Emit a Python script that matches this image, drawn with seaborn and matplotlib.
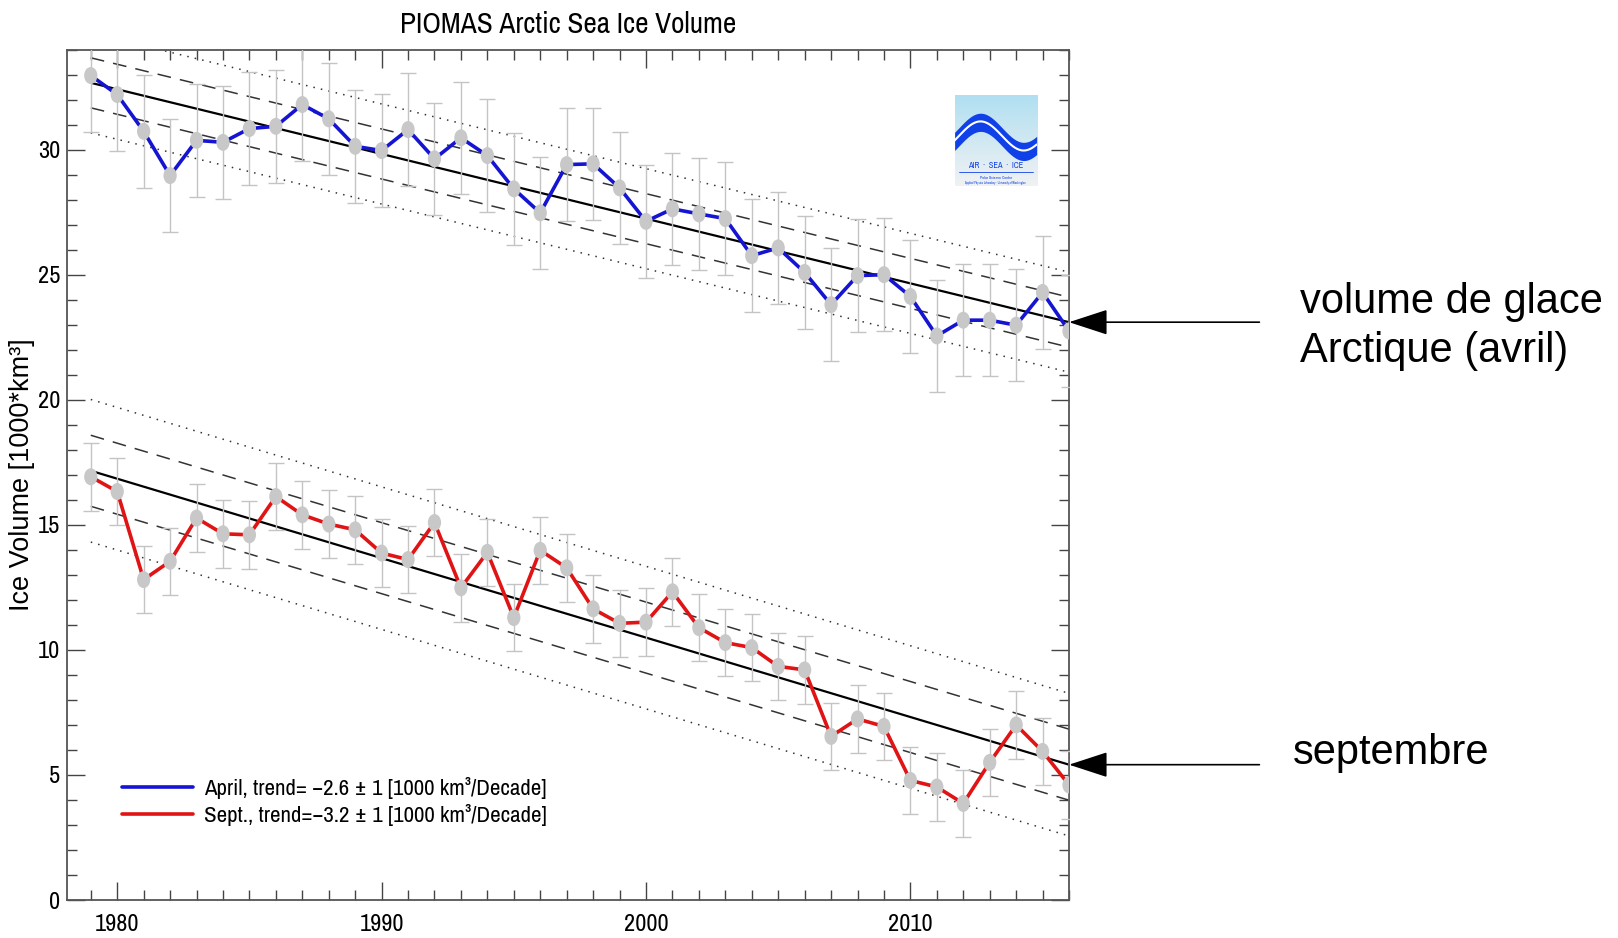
import numpy as np
import pandas as pd
import seaborn as sns
import matplotlib.pyplot as plt
from matplotlib.path import Path
from matplotlib.transforms import Affine2D
from matplotlib.ticker import MultipleLocator

#---------------------------------data
years = list(range(1979, 2017))
april = [32.96, 32.2, 30.73, 28.96, 30.37, 30.29, 30.84, 30.93, 31.8, 31.23,
         30.13, 29.96, 30.8, 29.63, 30.47, 29.76, 28.43, 27.47, 29.4, 29.43,
         28.47, 27.13, 27.63, 27.43, 27.24, 25.76, 26.07, 25.09, 23.8, 24.96,
         25.0, 24.13, 22.55, 23.18, 23.18, 22.98, 24.29, 22.75]
sept = [16.92, 16.33, 12.81, 13.54, 15.27, 14.64, 14.6, 16.13, 15.4, 15.03,
        14.8, 13.87, 13.61, 15.09, 12.48, 13.9, 11.29, 13.98, 13.28, 11.64,
        11.06, 11.11, 12.32, 10.89, 10.29, 10.09, 9.34, 9.2, 6.54, 7.24,
        6.94, 4.78, 4.52, 3.86, 5.5, 7.0, 5.94, 4.6]
april_err = 2.25
sept_err = 1.35

# trend lines: value at first and last year, plus 1 and 2 sigma offsets
trend_years = [1979, 2016]
april_trend = [32.67, 23.1]
sept_trend = [17.16, 5.41]
april_bands = [1.0, 2.0]
sept_bands = [1.42, 2.85]

april_label = "April, trend= \u22122.6 \u00b1 1 [1000 km\u00b3/Decade]"
sept_label = "Sept., trend=\u22123.2 \u00b1 1 [1000 km\u00b3/Decade]"

df = pd.DataFrame({"year": years, "april": april, "sept": sept})

#---------------------------------style
sns.set_style("ticks")
narrow = ['Archivo Narrow', 'Liberation Sans', 'DejaVu Sans']
plain = ['Liberation Sans', 'DejaVu Sans']
plt.rcParams['font.family'] = narrow
plt.rcParams['text.color'] = 'black'
plt.rcParams['axes.labelcolor'] = 'black'
plt.rcParams['xtick.labelcolor'] = 'black'
plt.rcParams['ytick.labelcolor'] = 'black'

fig = plt.figure(figsize=(16.18, 9.38), dpi=100)
ax = fig.add_axes([0.0414, 0.0405, 0.6193, 0.9067])

# grey ellipse marker (taller than wide)
ellipse = Path.unit_circle().transformed(Affine2D().scale(0.78, 1.0))

#---------------------------------trend lines
for trend, bands in [(april_trend, april_bands), (sept_trend, sept_bands)]:
    t = np.array(trend)
    sns.lineplot(x=trend_years, y=t, ax=ax, color="black", lw=1.6, zorder=2)
    for off, dash in [(bands[0], [9, 6]), (-bands[0], [9, 6]),
                      (bands[1], [1, 4]), (-bands[1], [1, 4])]:
        sns.lineplot(x=trend_years, y=t + off, ax=ax, color="#333333", lw=1.1, zorder=2)
        ax.lines[-1].set_dashes(dash)

#---------------------------------series
for col, err, color, label in [("april", april_err, "#1414d2", april_label),
                                ("sept", sept_err, "#e01414", sept_label)]:
    ax.errorbar(df["year"], df[col], yerr=err, fmt="none", ecolor="#c4c4c4",
                elinewidth=1.0, capsize=6, capthick=1.0, zorder=3)
    sns.lineplot(data=df, x="year", y=col, ax=ax, color=color, lw=2.6,
                 label=label, zorder=4)
    sns.scatterplot(data=df, x="year", y=col, ax=ax, marker=ellipse, s=150,
                    color="#c8c8c8", edgecolor="none", zorder=5)

#---------------------------------axes
ax.set_xlim(1978.1, 2016)
ax.set_ylim(0, 34)
ax.xaxis.set_major_locator(MultipleLocator(10))
ax.xaxis.set_minor_locator(MultipleLocator(1))
ax.yaxis.set_major_locator(MultipleLocator(5))
ax.yaxis.set_minor_locator(MultipleLocator(1))
ax.tick_params(which="both", direction="in", top=True, right=True,
               color="#444444", width=1.0, labelsize=17.5)
ax.tick_params(which="major", length=13)
ax.tick_params(which="minor", length=7)
ax.tick_params(axis="x", which="major", pad=10)
ax.tick_params(axis="y", which="major", pad=5)
for s in ax.spines.values():
    s.set_color("#555555")
    s.set_linewidth(1.3)
ax.set_xlabel("")
ax.set_ylabel("Ice Volume [1000*km\u00b3]", family=plain, fontsize=19.5, labelpad=2)
ax.set_title("PIOMAS Arctic Sea Ice Volume", fontsize=21, pad=12)

leg = ax.legend(loc="center left", bbox_to_anchor=(0.043, 0.116), frameon=False,
                fontsize=16.5, handlelength=3.1, handletextpad=0.5,
                labelspacing=0.22, borderpad=0)

#---------------------------------logo (AIR - SEA - ICE)
lax = fig.add_axes([0.590, 0.8017, 0.0507, 0.097])
grad = np.linspace(0.0, 1.0, 50).reshape(-1, 1)
lax.imshow(grad, extent=[0, 1, 0, 1], aspect="auto",
           cmap=sns.light_palette("#a8dcf0", as_cmap=True), origin="lower", alpha=0.9)
xx = np.linspace(0, 1, 200)
wave = 0.58 + 0.16 * np.sin(2 * np.pi * (xx * 0.95 - 0.05))
lax.fill_between(xx, wave - 0.14, wave + 0.06, color="#1040e8", lw=0)
lax.plot(xx, wave - 0.03, color="white", lw=1.5)
lax.text(0.5, 0.22, "AIR  \u00b7  SEA  \u00b7  ICE", ha="center", va="center",
         fontsize=6, color="#1040e8", weight="bold")
lax.plot([0.05, 0.95], [0.15, 0.15], color="#1040e8", lw=0.6)
lax.text(0.5, 0.09, "Polar Science Center", ha="center", va="center", fontsize=3, color="#1040e8")
lax.text(0.5, 0.03, "Applied Physics Laboratory \u00b7 University of Washington",
         ha="center", va="center", fontsize=2.2, color="#1040e8")
lax.set_xlim(0, 1)
lax.set_ylim(0, 1)
lax.axis("off")

#---------------------------------french annotations with arrows
for val in [april_trend[1], sept_trend[1]]:
    ax.annotate("", xy=(1.0, val), xycoords=("axes fraction", "data"),
                xytext=(1.19, val), textcoords=("axes fraction", "data"),
                arrowprops=dict(arrowstyle="-|>,head_length=0.98,head_width=0.32",
                                mutation_scale=25, color="black", lw=1.2,
                                shrinkA=0, shrinkB=0))
fig.text(0.8035, 0.652, "volume de glace\nArctique (avril)", ha="left", va="center",
         fontsize=30, family=plain, linespacing=1.28, color="black")
fig.text(0.799, 0.197, "septembre", ha="left", va="center", fontsize=30,
         family=plain, color="black")

fig.savefig("out.png", dpi=100)
